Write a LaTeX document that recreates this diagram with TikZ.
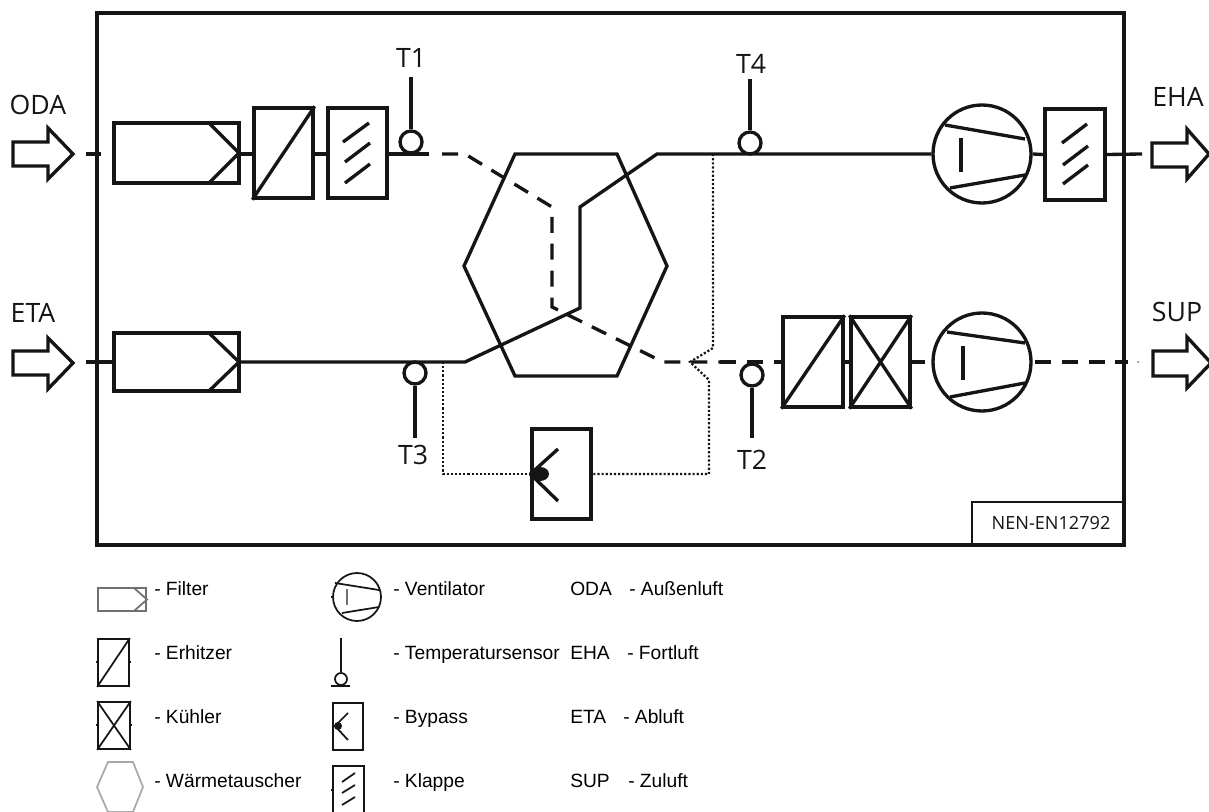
\documentclass[tikz,border=0pt]{standalone}
\usepackage{fontspec}
\setmainfont{Open Sans}
\newfontfamily\legendfont{Liberation Sans}
\definecolor{ink}{HTML}{151515}
\definecolor{legendgray}{HTML}{707070}
\definecolor{hexgray}{HTML}{A8A8A8}
\tikzset{
  px/.style={x=0.75pt,y=-0.75pt},
  main/.style={line width=2.5pt,draw=ink,line join=miter},
  thinmain/.style={line width=1.5pt,draw=ink},
  unit/.style n args={2}{main,rectangle,inner sep=0pt,minimum width=#1*0.75pt,minimum height=#2*0.75pt},
  sens/.style={main,circle,inner sep=0pt,minimum size=16.5pt},
  fan/.style={main,circle,inner sep=0pt,minimum size=73.5pt},
  dashline/.style={main,dash pattern=on 12pt off 8.2pt},
  dotline/.style={line width=1.7pt,draw=ink,dash pattern=on 1.6pt off 1.5pt},
  airarrow/.style={main,fill=white,miter limit=10},
  biglabel/.style={inner sep=0pt,text=ink,font=\fontsize{20}{20}\selectfont},
  leg/.style={anchor=base west,inner sep=0pt,text=black,font=\legendfont\fontsize{14.4}{14.4}\selectfont},
  lthin/.style={line width=1.3pt,draw=ink},
  lunit/.style n args={2}{lthin,rectangle,inner sep=0pt,minimum width=#1*0.75pt,minimum height=#2*0.75pt},
}
\begin{document}
\begin{tikzpicture}[px]
\clip (0,0) rectangle (1209,812);
\fill[white] (0,0) rectangle (1209,812);

% housing
\node[main,rectangle,inner sep=0pt,minimum width=1027*0.75pt,minimum height=532*0.75pt,line width=2.6pt] (frame) at (610.5,279) {};
\node[thinmain,rectangle,inner sep=0pt,minimum width=152*0.75pt,minimum height=43*0.75pt] (norm) at (1048,523.5) {};
\node[inner sep=0pt,text=ink,font=\fontsize{13.6}{13.6}\selectfont] (normtext) at (1051,523) {NEN-EN12792};

% outside air arrows
\draw[airarrow] (13,142) -- (48,142) -- (48,128) -- (73,154) -- (48,179) -- (48,166) -- (13,166) -- cycle;
\draw[airarrow] (13,351) -- (48,351) -- (48,338) -- (73,363) -- (48,389) -- (48,375) -- (13,375) -- cycle;
\draw[airarrow] (1152,143) -- (1187,143) -- (1187,129) -- (1209,154) -- (1187,179) -- (1187,167) -- (1152,167) -- cycle;
\draw[airarrow] (1153,351) -- (1187,351) -- (1187,337) -- (1211,363) -- (1187,388) -- (1187,376) -- (1153,376) -- cycle;
\node[biglabel] (oda) at (38,105) {ODA};
\node[biglabel] (eta) at (33,313) {ETA};
\node[biglabel] (eha) at (1178,97) {EHA};
\node[biglabel] (sup) at (1177,312) {SUP};

% units, top row
\node[unit={125}{60}] (f1) at (176.5,153) {};
\draw[main] (209,123) -- (239,153) -- (209,183);
\node[unit={59}{90}] (h1) at (283.5,153) {};
\draw[main] (h1.north east) -- (h1.south west);
\node[unit={59}{90}] (k1) at (357.5,153) {};
\draw[main] (343,142) -- (369,123) (345,162) -- (370,143) (345,183) -- (370,164);
\node[sens] (t1) at (411,142) {};
\node[biglabel] (t1l) at (411,58) {T1};
\coordinate (t1top) at (411,77);
\draw[main] (t1top) -- (t1.north);

\node[sens] (t4) at (750,143) {};
\node[biglabel] (t4l) at (751,64) {T4};
\coordinate (t4top) at (750,79);
\draw[main] (t4top) -- (t4.north);
\node[fan] (v1) at (982,154) {};
\draw[main] (945,125) -- (1025,139) (950,188) -- (1025,175);
\draw[main] (961,138) -- (961,172);
\node[unit={60}{91}] (k2) at (1075,154.5) {};
\draw[main] (1062,143) -- (1087,124) (1063,165) -- (1088,146) (1063,184) -- (1088,165);

% units, bottom row
\node[unit={125}{58}] (f2) at (176.5,362) {};
\draw[main] (209,333) -- (239,362) -- (209,391);
\node[sens] (t3) at (415,373) {};
\node[biglabel] (t3l) at (413,455) {T3};
\coordinate (t3end) at (415,438);
\draw[main] (t3.south) -- (t3end);
\node[sens] (t2) at (752,375) {};
\node[biglabel] (t2l) at (752,460) {T2};
\coordinate (t2end) at (752,438);
\draw[main] (t2.south) -- (t2end);
\node[unit={60}{90}] (h2) at (813,362) {};
\draw[main] (h2.north east) -- (h2.south west);
\node[unit={59}{90}] (c1) at (880.5,362) {};
\draw[main] (c1.north east) -- (c1.south west) (c1.north west) -- (c1.south east);
\node[fan] (v2) at (982,362) {};
\draw[main] (947,332) -- (1025,343) (950,397) -- (1025,383);
\draw[main] (963,346) -- (963,380);

% heat exchanger
\draw[main] (515,154) -- (617,154) -- (667,266) -- (617,376) -- (515,376) -- (464,266) -- cycle;

% connectors, top row
\coordinate (odain) at (86,154);
\coordinate (odaout) at (101,154);
\draw[main] (odain) -- (odaout);
\draw[main] (f1.east |- 0,154) -- (h1.west |- 0,154);
\draw[main] (h1.east |- 0,154) -- (k1.west |- 0,154);
\coordinate (t1r) at (429,154);
\draw[main] (k1.east |- 0,154) -- (t1r);
\draw[dashline] (442,154) -- (465,154) -- (552,207) -- (552,307) -- (663,362) -- (722,362);
\coordinate (hxtop) at (657,154);
\draw[main] (v1.west) -- (hxtop) -- (580,207) -- (580,308) -- (465,362) -- (f2.east);
\draw[main] (v1.east) -- (k2.west);
\coordinate (ehaend) at (1142,154);
\draw[main] (k2.east) -- (ehaend);

% connectors, bottom row
\coordinate (etain) at (86,362);
\draw[main] (etain) -- (f2.west);
\draw[dashline] (720,362) -- (783,362);
\draw[main] (h2.east) -- (c1.west);
\coordinate (v2in) at (925,362);
\draw[main] (c1.east) -- (v2in);
\draw[dashline] (v2.east) ++(2,0) -- (1128,362);
\fill[ink!60] (1138,362) circle (1);

% bypass
\node[unit={59}{90}] (by) at (561.5,474) {};
\begin{scope}
\clip (by.south west) rectangle (by.north east);
\fill[ink] (540,474) ellipse (9 and 7);
\end{scope}
\draw[main] (by.west) -- (558,449) (by.west) -- (558,501);
\draw[dotline] (713,154) -- (713,348) -- (690,362) -- (709,380) -- (709,474) -- (by.east);
\draw[dotline] (443,362) -- (443,474) -- (by.west);

% legend
\node[legendgray,line width=1.3pt,draw,rectangle,inner sep=0pt,minimum width=48*0.75pt,minimum height=23*0.75pt] (lf) at (122,599.5) {};
\draw[legendgray,line width=1.3pt] (134,588) -- (147,599.5) -- (134,611);
\node[lunit={31}{47}] (lh) at (113.5,662.5) {};
\draw[lthin] (lh.north east) -- (lh.south west);
\draw[lthin] (96,662) -- (lh.west |- 0,662) (lh.east |- 0,662) -- (131,662);
\node[lunit={32}{47}] (lc) at (114,725.5) {};
\draw[lthin] (lc.north east) -- (lc.south west) (lc.north west) -- (lc.south east);
\draw[lthin] (96,725) -- (lc.west |- 0,725) (lc.east |- 0,725) -- (132,725);
\draw[hexgray,line width=1.3pt] (108,762) -- (133,762) -- (143,787) -- (133,812) -- (108,812) -- (97,787) -- cycle;
\node[lthin,circle,inner sep=0pt,minimum size=36pt] (lv) at (357,597) {};
\draw[lthin] (335,583) -- (379,590) (342,613) -- (379,607);
\draw[legendgray,line width=1.3pt] (347,589) -- (347,605);
\draw[lthin] (331,597) -- (lv.west);
\node[lthin,circle,inner sep=0pt,minimum size=9pt] (ls) at (341,679) {};
\coordinate (lstop) at (341,638);
\draw[lthin] (lstop) -- (ls.north);
\draw[lthin] (331,686) -- (350,686);
\node[lunit={30}{47}] (lb) at (348,726.5) {};
\fill[ink] (338,726) circle (4);
\draw[lthin] (335,726) -- (348,713) (335,726) -- (348,740);
\node[lunit={31}{70}] (lk) at (348.5,801) {};
\draw[lthin] (342,782) -- (355,773) (342,793) -- (355,785) (342,805) -- (355,797);
\draw[lthin] (331,790) -- (lk.west |- 0,790);

\node[leg] (t1a) at (154,595) {- Filter};
\node[leg] (t1b) at (154,659) {- Erhitzer};
\node[leg] (t1c) at (154,723) {- Kühler};
\node[leg] (t1d) at (154,787) {- Wärmetauscher};
\node[leg] (t2a) at (393,595) {- Ventilator};
\node[leg] (t2b) at (393,659) {- Temperatursensor};
\node[leg] (t2c) at (393,723) {- Bypass};
\node[leg] (t2d) at (393,787) {- Klappe};
\node[leg] (t3a) at (570,595) {ODA};
\node[leg] (t3b) at (570,659) {EHA};
\node[leg] (t3c) at (570,723) {ETA};
\node[leg] (t3d) at (570,787) {SUP};
\node[leg] (t4a) at (629,595) {- Außenluft};
\node[leg] (t4b) at (627,659) {- Fortluft};
\node[leg] (t4c) at (623,723) {- Abluft};
\node[leg] (t4d) at (628,787) {- Zuluft};
\end{tikzpicture}
\end{document}
